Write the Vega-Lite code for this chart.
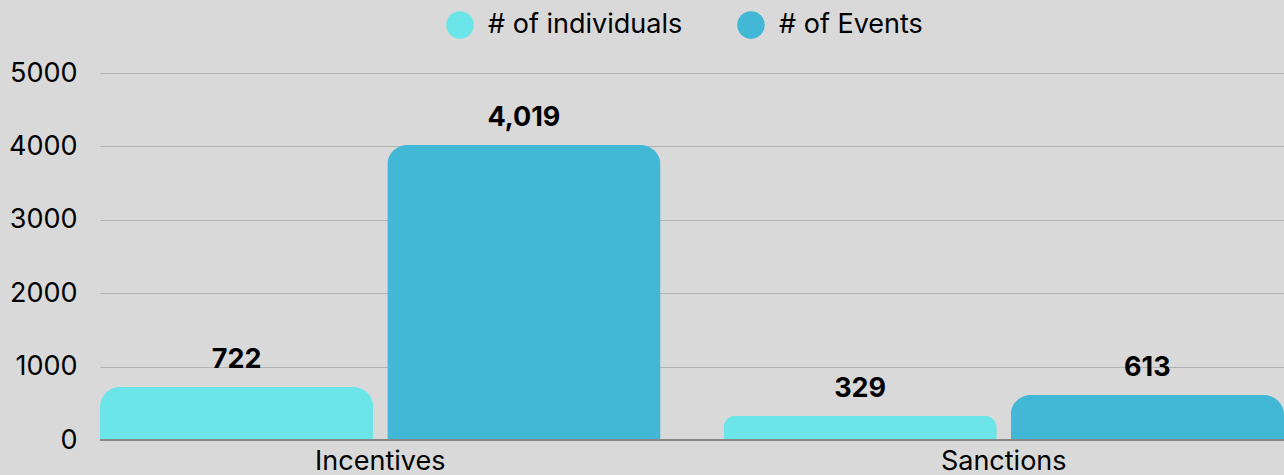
{
  "$schema": "https://vega.github.io/schema/vega-lite/v6.json",
  "autosize": "none",
  "width": 1184,
  "height": 367,
  "padding": {"left": 100, "top": 73, "right": 0, "bottom": 35},
  "background": "#d9d9d9",
  "config": {
    "view": {"stroke": null},
    "font": "Inter",
    "axis": {"labelFont": "Inter", "labelColor": "#000000", "labelFontSize": 27, "domain": false, "ticks": false}
  },
  "data": {
    "values": [
      {"category": "Incentives", "series": "# of individuals", "value": 722},
      {"category": "Incentives", "series": "# of Events", "value": 4019},
      {"category": "Sanctions", "series": "# of individuals", "value": 329},
      {"category": "Sanctions", "series": "# of Events", "value": 613}
    ]
  },
  "encoding": {
    "x": {
      "field": "category", "type": "nominal",
      "scale": {"paddingInner": 0.101, "paddingOuter": 0},
      "axis": {"title": null, "labelAngle": 0, "labelPadding": 8, "grid": false}
    },
    "xOffset": {
      "field": "series", "type": "nominal",
      "sort": ["# of individuals", "# of Events"],
      "scale": {"paddingInner": 0.0488, "paddingOuter": 0}
    },
    "y": {
      "field": "value", "type": "quantitative",
      "scale": {"domain": [0, 5000]},
      "axis": {"title": null, "values": [0, 1000, 2000, 3000, 4000, 5000], "grid": true, "gridColor": "#b3b3b3", "gridWidth": 1.2, "labelPadding": 23, "format": "d"}
    }
  },
  "layer": [
    {
      "mark": {"type": "bar", "cornerRadiusTopLeft": 20, "cornerRadiusTopRight": 20},
      "encoding": {
        "color": {
          "field": "series", "type": "nominal",
          "sort": ["# of individuals", "# of Events"],
          "scale": {"domain": ["# of individuals", "# of Events"], "range": ["#6ce5e8", "#42b7d6"]},
          "legend": {
            "title": null, "orient": "none", "direction": "horizontal",
            "legendX": 346, "legendY": -62,
            "symbolType": "circle", "symbolSize": 760, "symbolStrokeWidth": 0,
            "labelFont": "Inter", "labelFontSize": 27, "labelColor": "#000000", "labelLimit": 500,
            "labelOffset": 14, "columnPadding": 54
          }
        }
      }
    },
    {
      "mark": {"type": "rule", "color": "#888888", "strokeWidth": 1.5},
      "encoding": {"y": {"datum": 0}, "x": null, "xOffset": null}
    },
    {
      "mark": {"type": "text", "baseline": "bottom", "dy": -13, "fontWeight": "bold", "fontSize": 27, "font": "Inter", "color": "#000000"},
      "encoding": {"text": {"field": "value", "type": "quantitative", "format": ","}}
    }
  ]
}
